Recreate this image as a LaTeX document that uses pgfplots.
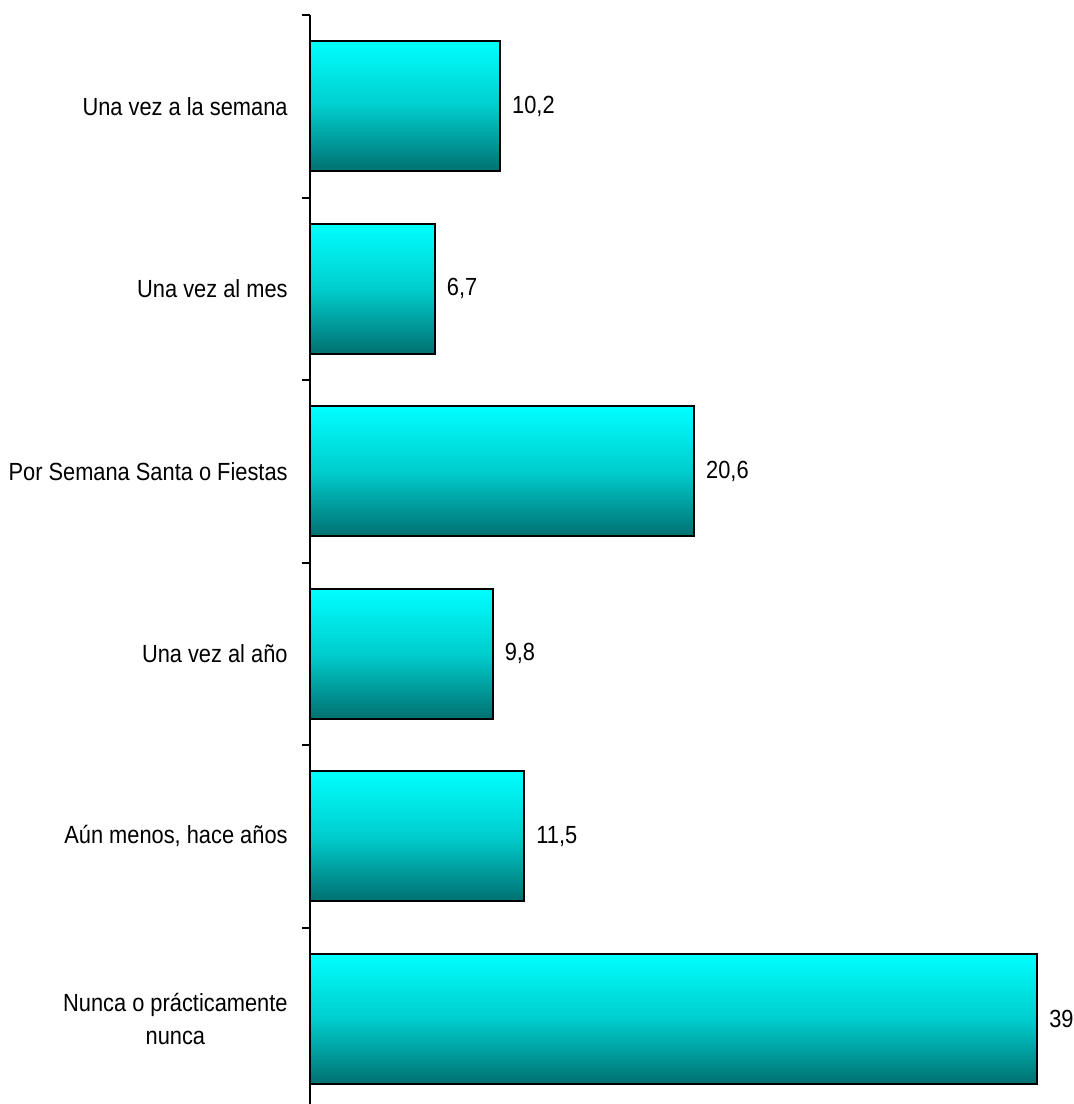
\documentclass[border=0pt]{standalone}
\usepackage{pgfplots}
\pgfplotsset{compat=1.18}
\usepackage{fontspec}
\setmainfont{Liberation Sans}[FakeStretch=0.88]
\definecolor{barTop}{RGB}{0,255,255}
\definecolor{barMid}{RGB}{0,205,205}
\definecolor{barBot}{RGB}{0,112,112}
\pgfplotsset{mybar/.style={draw=black, line width=1pt, top color=barTop, bottom color=barBot, middle color=barMid}}
\begin{document}
\fontsize{12.4}{16.5}\selectfont
\begin{tikzpicture}
\begin{axis}[
  at={(155pt,-3pt)}, anchor=south west,
  scale only axis, width=373pt, height=547.5pt,
  xbar, bar width=65pt, bar shift=0pt,
  xmin=0, xmax=40, ymin=-0.5, ymax=5.5, y dir=reverse,
  hide x axis,
  axis y line*=left,
  ytick={0,1,2,3,4,5},
  yticklabels={Una vez a la semana, Una vez al mes, Por Semana Santa o Fiestas, Una vez al año, {Aún menos, hace años}, {Nunca o prácticamente\\nunca}},
  major tick length=0pt,
  minor ytick={-0.5,0.5,1.5,2.5,3.5,4.5,5.5},
  minor tick length=4pt,
  tick align=outside,
  tick style={line width=1pt, black},
  y axis line style={line width=1pt, -},
  yticklabel style={align=center, inner sep=0pt, xshift=-11pt},
  nodes near coords,
  nodes near coords style={anchor=west, inner sep=0pt, xshift=5.5pt, black},
  /pgf/number format/use comma,
  /pgf/number format/assume math mode=true,
  clip=false,
]
\addplot[mybar] coordinates {(10.2,0)};
\addplot[mybar] coordinates {(6.7,1)};
\addplot[mybar] coordinates {(20.6,2)};
\addplot[mybar] coordinates {(9.8,3)};
\addplot[mybar] coordinates {(11.5,4)};
\addplot[mybar] coordinates {(39,5)};
\end{axis}
\pgfresetboundingbox
\path[use as bounding box] (0,0) rectangle (536.5pt,552pt);
\end{tikzpicture}
\end{document}
